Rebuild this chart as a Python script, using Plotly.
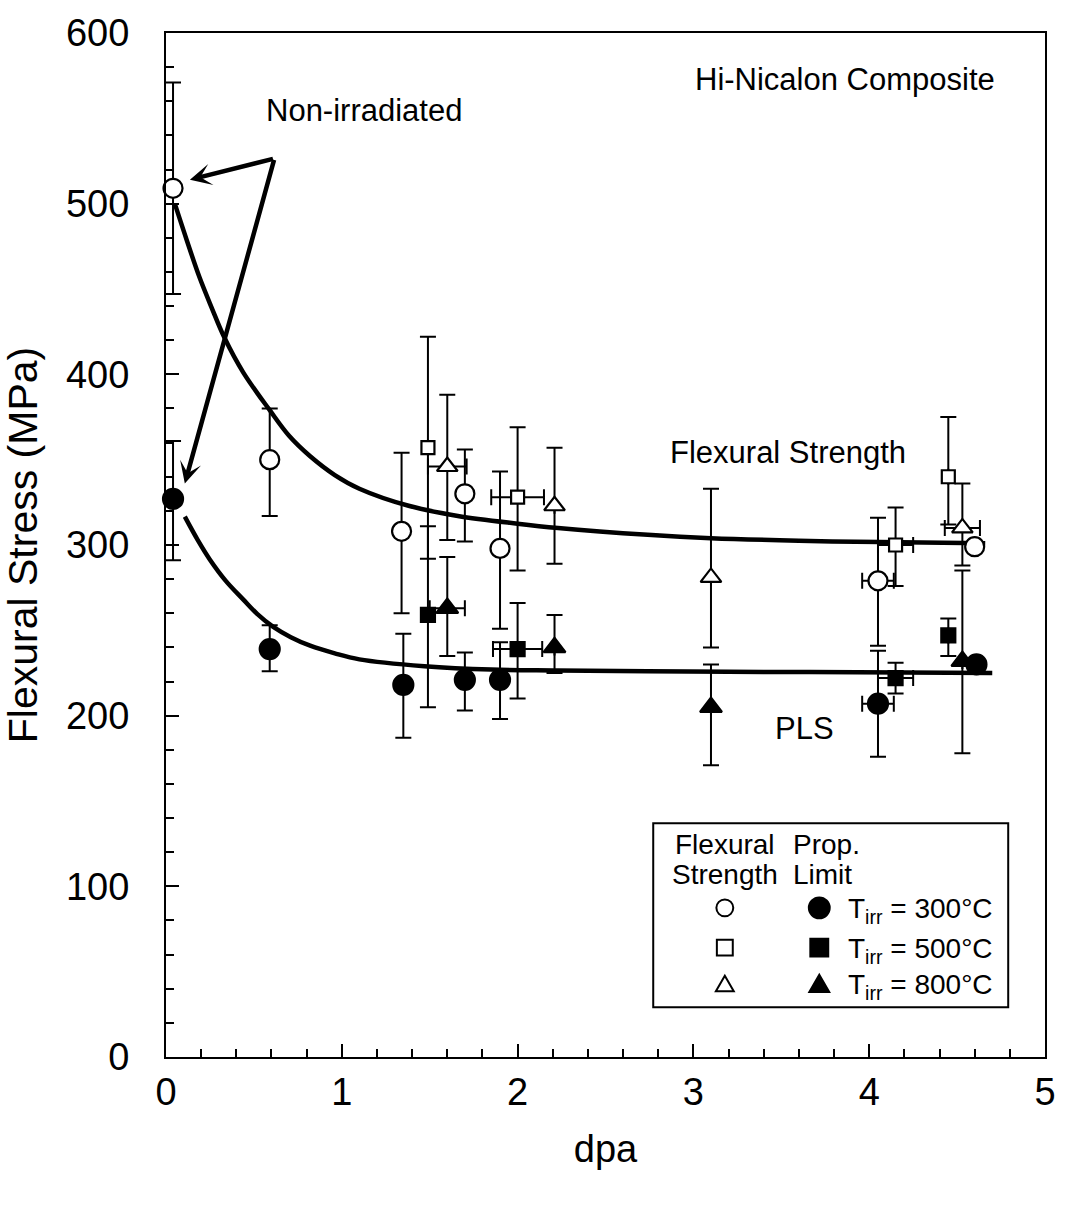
import plotly.graph_objects as go

# ---------------- data ----------------
# Flexural strength (open symbols)
fs300_x = [0.04, 0.59, 1.34, 1.70, 1.90, 4.05, 4.60]
fs300_y = [509, 350, 308, 330, 298, 279, 299]
fs300_ep = [62, 30, 46, 26, 45, 37, 0]
fs300_em = [62, 33, 48, 28, 47, 38, 0]
fs300_ex = [0, 0, 0, 0, 0, 0.09, 0]

fs500_x = [1.49, 2.00, 4.15, 4.45]
fs500_y = [357, 328, 300, 340]
fs500_ep = [65, 41, 22, 35]
fs500_em = [65, 43, 24, 28]
fs500_ex = [0, 0.15, 0.10, 0]

fs800_x = [1.60, 2.21, 3.10, 4.53]
fs800_y = [346, 323, 281, 310]
fs800_ep = [42, 34, 52, 26]
fs800_em = [43, 34, 41, 22]
fs800_ex = [0.11, 0, 0, 0.10]

# Proportional limit stress (filled symbols)
pl300_x = [0.04, 0.59, 1.35, 1.70, 1.90, 4.05, 4.61]
pl300_y = [327, 239, 218, 221, 221, 207, 230]
pl300_ep = [34, 14, 30, 16, 22, 31, 0]
pl300_em = [36, 13, 31, 18, 23, 31, 0]
pl300_ex = [0, 0, 0, 0, 0, 0.09, 0]

pl500_x = [1.49, 2.00, 4.15, 4.45]
pl500_y = [259, 239, 222, 247]
pl500_ep = [52, 27, 9, 10]
pl500_em = [54, 29, 9, 12]
pl500_ex = [0, 0.14, 0.10, 0]

pl800_x = [1.60, 2.21, 3.10, 4.53]
pl800_y = [263, 240, 205, 232]
pl800_ep = [30, 19, 25, 53]
pl800_em = [28, 15, 34, 54]
pl800_ex = [0.10, 0, 0, 0]

# Fitted trend curves
fit_fs_x = [0.05, 0.12, 0.19, 0.26, 0.33, 0.44, 0.59, 0.70, 0.82, 0.96, 1.10, 1.38, 1.66, 2.00, 2.23, 2.74, 3.10, 3.60, 4.06, 4.66]
fit_fs_y = [500, 478, 457, 439, 422, 401, 379, 364, 352, 341, 333, 323, 317, 312.5, 310, 306, 304, 302.5, 301.7, 301]
fit_pl_x = [0.107, 0.18, 0.25, 0.34, 0.44, 0.52, 0.61, 0.71, 0.82, 0.96, 1.10, 1.47, 1.85, 2.23, 2.74, 3.50, 4.20, 4.70]
fit_pl_y = [316.6, 303, 291.4, 279, 268, 259.5, 252, 246, 241, 236.5, 233, 229, 227, 226.5, 226, 225.6, 225.3, 225]

FONT = "Liberation Sans, Arial, sans-serif"

fig = go.Figure()

# curves
for cx, cy in [(fit_fs_x, fit_fs_y), (fit_pl_x, fit_pl_y)]:
    fig.add_trace(go.Scatter(x=cx, y=cy, mode="lines",
                             line=dict(color="black", width=4.5, shape="spline", smoothing=1.0),
                             hoverinfo="skip", showlegend=False))

def add_series(x, y, ep, em, ex, symbol, size, filled):
    fig.add_trace(go.Scatter(
        x=x, y=y, mode="markers", cliponaxis=False, showlegend=False,
        marker=dict(symbol=symbol, size=size,
                    color="black" if filled else "white",
                    line=dict(color="black", width=2.2)),
        error_y=dict(type="data", array=ep, arrayminus=em, color="black",
                     thickness=2, width=8, symmetric=False),
        error_x=dict(type="data", array=ex, color="black", thickness=2, width=8),
    ))

add_series(fs300_x, fs300_y, fs300_ep, fs300_em, fs300_ex, "circle", 19, False)
add_series(fs500_x, fs500_y, fs500_ep, fs500_em, fs500_ex, "square", 13, False)
add_series(fs800_x, fs800_y, fs800_ep, fs800_em, fs800_ex, "triangle-up", 18, False)
add_series(pl300_x, pl300_y, pl300_ep, pl300_em, pl300_ex, "circle", 20, True)
add_series(pl500_x, pl500_y, pl500_ep, pl500_em, pl500_ex, "square", 14, True)
add_series(pl800_x, pl800_y, pl800_ep, pl800_em, pl800_ex, "triangle-up", 19, True)

# ---------------- layout ----------------
L, R, T, B = 166, 1050, 27, 1057
W, H = 1068, 1205

def px(xp):
    return (xp - L) / (R - L)

def py(yp):
    return (B - yp) / (B - T)

annotations = []
# arrows from "Non-irradiated"
arrow_tail = (0.617, 526.5)
for tip in [(0.136, 514), (0.107, 336)]:
    annotations.append(dict(x=tip[0], y=tip[1], ax=arrow_tail[0], ay=arrow_tail[1],
                            xref="x", yref="y", axref="x", ayref="y", text="",
                            showarrow=True, arrowhead=3, arrowsize=0.8, arrowwidth=4.5,
                            arrowcolor="black", standoff=0))

def txt(text, x, y, size, xanchor="center"):
    annotations.append(dict(text=text, x=px(x), y=py(y), xref="paper", yref="paper",
                            showarrow=False, xanchor=xanchor, yanchor="middle",
                            font=dict(family=FONT, size=size, color="black")))

txt("Hi-Nicalon Composite", 849, 74, 31)
txt("Non-irradiated", 365, 105, 31)
txt("Flexural Strength", 792, 449, 31)
txt("PLS", 808, 727, 31)

# legend texts
txt("Flexural", 728, 843, 28)
txt("Strength", 728, 873, 28)
txt("Prop.", 795, 843, 28, "left")
txt("Limit", 795, 873, 28, "left")
legend_rows = [907, 947, 983]
for yy, t in zip(legend_rows, ["300", "500", "800"]):
    txt("T<sub>irr</sub> = %s°C" % t, 850, yy + 3, 28, "left")

shapes = []
shapes.append(dict(type="rect", xref="paper", yref="paper",
                   x0=px(656), x1=px(1013), y0=py(1007), y1=py(822),
                   line=dict(color="black", width=2), fillcolor="white", layer="below"))

def circ(cx, cy, r, filled):
    shapes.append(dict(type="circle", xref="paper", yref="paper",
                       x0=px(cx - r), x1=px(cx + r), y0=py(cy + r), y1=py(cy - r),
                       line=dict(color="black", width=2),
                       fillcolor="black" if filled else "white"))

def sq(cx, cy, a, filled):
    shapes.append(dict(type="rect", xref="paper", yref="paper",
                       x0=px(cx - a / 2), x1=px(cx + a / 2), y0=py(cy + a / 2), y1=py(cy - a / 2),
                       line=dict(color="black", width=2),
                       fillcolor="black" if filled else "white"))

def tri(cx, cy, w, filled):
    h = w * 0.866
    p = "M %f,%f L %f,%f L %f,%f Z" % (px(cx - w / 2), py(cy + h / 2), px(cx + w / 2), py(cy + h / 2),
                                        px(cx), py(cy - h / 2))
    shapes.append(dict(type="path", xref="paper", yref="paper", path=p,
                       line=dict(color="black", width=2),
                       fillcolor="black" if filled else "white"))

circ(728, 907, 8.5, False)
circ(823, 907, 10.5, True)
sq(728, 947, 16, False)
sq(823, 947, 18, True)
tri(728, 983, 18, False)
tri(823, 983, 20, True)

axis_common = dict(showline=True, linecolor="black", linewidth=2, mirror=True,
                   ticks="inside", tickcolor="black", tickwidth=2, ticklen=13,
                   showgrid=False, zeroline=False,
                   tickfont=dict(family=FONT, size=38, color="black"))

fig.update_layout(
    width=W, height=H,
    margin=dict(l=L, r=W - R, t=T, b=H - B),
    paper_bgcolor="white", plot_bgcolor="white",
    showlegend=False,
    xaxis=dict(range=[0, 5], dtick=1, tick0=0,
               minor=dict(dtick=0.2, ticks="inside", ticklen=8, tickwidth=1.5, tickcolor="black", showgrid=False),
               ticklabelstandoff=0,
               title=dict(text="dpa", font=dict(family=FONT, size=38, color="black"), standoff=24),
               **axis_common),
    yaxis=dict(range=[0, 600], dtick=100, tick0=0,
               minor=dict(dtick=20, ticks="inside", ticklen=8, tickwidth=1.5, tickcolor="black", showgrid=False),
               ticklabelstandoff=27,
               title=dict(text="Flexural Stress (MPa)", font=dict(family=FONT, size=41, color="black"), standoff=16),
               **axis_common),
    annotations=annotations,
    shapes=shapes,
)

fig.write_html("out.html")
